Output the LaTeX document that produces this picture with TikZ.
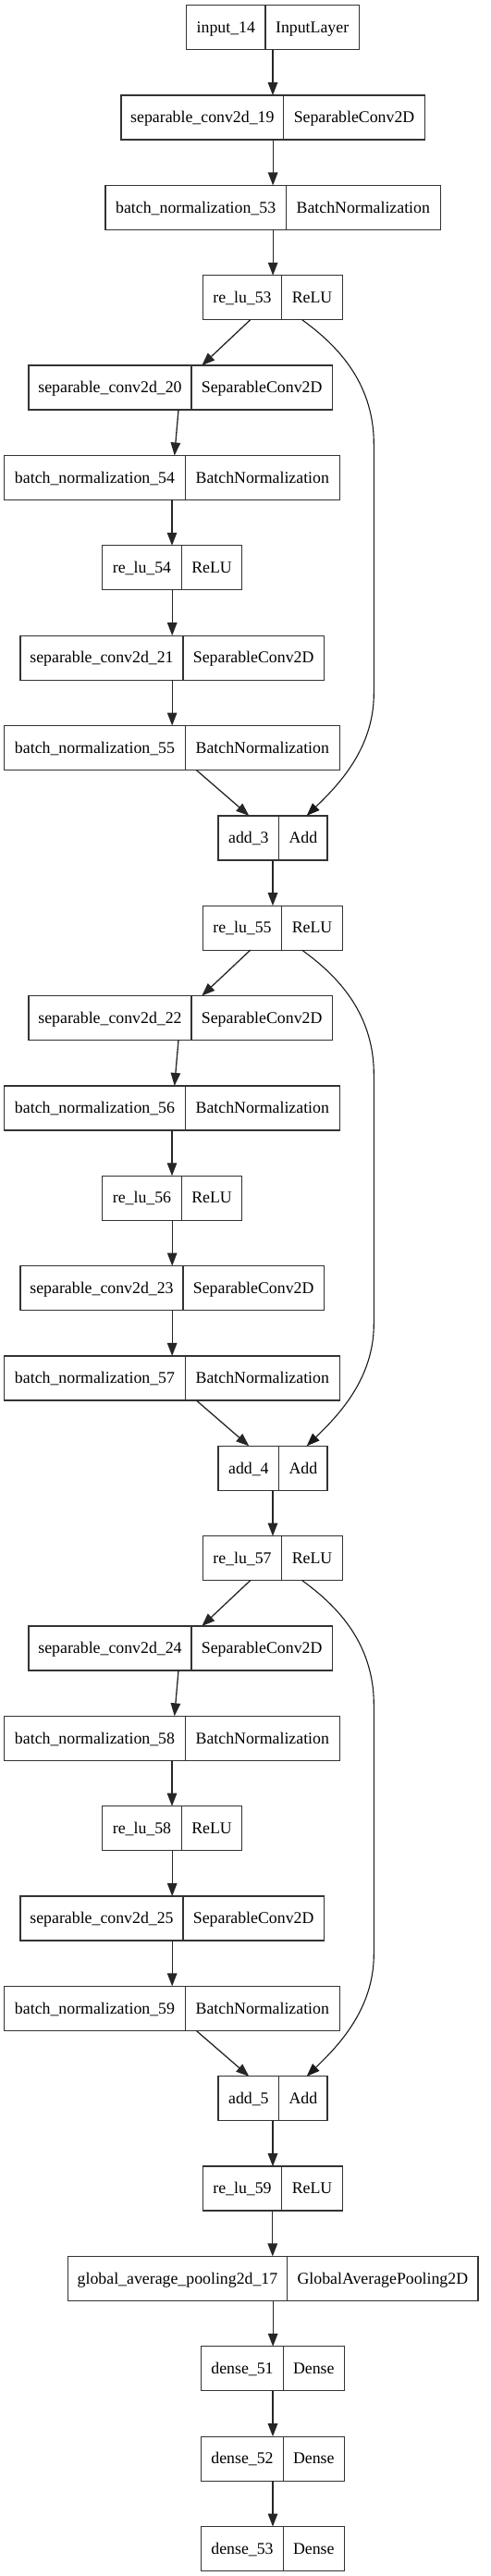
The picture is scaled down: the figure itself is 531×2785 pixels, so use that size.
\documentclass[tikz,border=0pt]{standalone}
\usepackage{fontspec}
\setmainfont{Liberation Serif}
\usetikzlibrary{arrows.meta}
\tikzset{
  recbox/.style={draw=black!80, line width=1.3bp, inner sep=0pt, outer sep=0pt, minimum height=48bp},
  recline/.style={draw=black!80, line width=1.3bp},
  lbl/.style={inner sep=0pt, anchor=base, font=\fontsize{17.8bp}{20bp}\selectfont, text=black},
  edge/.style={draw=black!85, line width=1.3bp, -{Triangle[length=14bp,width=10.5bp]}},
  skipedge/.style={draw=black!90, line width=1.1bp, -{Triangle[length=14bp,width=10.5bp]}}
}
\newcommand\layerbox[7]{%
  \pgfmathsetmacro\lbY{5.7+#2*97.35}%
  \pgfmathsetmacro\lbB{\lbY+29.7}%
  \pgfmathsetmacro\lbW{#5-#3}%
  \node[recbox, minimum width=\lbW bp, anchor=north west] (#1) at (#3,\lbY) {};
  \draw[recline] (#4,\lbY) -- ++(0,48);
  \node[lbl] (#1n) at ({(#3+#4)/2},\lbB) {#6};
  \node[lbl] (#1t) at ({(#4+#5)/2},\lbB) {#7};
}
\begin{document}
\begin{tikzpicture}[x=1bp,y=-1bp]
\useasboundingbox (0,0) rectangle (531,2785);
% main head
\layerbox{in1}{0}{201.7}{287}{388.3}{input\_14}{InputLayer}
\layerbox{sc19}{1}{131}{306.7}{459.3}{separable\_conv2d\_19}{SeparableConv2D}
\layerbox{bn53}{2}{114}{309.3}{476.3}{batch\_normalization\_53}{BatchNormalization}
% block 1
\layerbox{r53}{3}{219.3}{304.7}{370.3}{re\_lu\_53}{ReLU}
\layerbox{sc20}{4}{31}{207}{359.3}{separable\_conv2d\_20}{SeparableConv2D}
\layerbox{bn54}{5}{4.7}{200.3}{367.3}{batch\_normalization\_54}{BatchNormalization}
\layerbox{r54}{6}{110.7}{196.3}{261.7}{re\_lu\_54}{ReLU}
\layerbox{sc21}{7}{22}{198}{350.3}{separable\_conv2d\_21}{SeparableConv2D}
\layerbox{bn55}{8}{4.7}{200.3}{367.3}{batch\_normalization\_55}{BatchNormalization}
\layerbox{ad3}{9}{236}{301.7}{354}{add\_3}{Add}
% block 2
\layerbox{r55}{10}{219.3}{304.7}{370.3}{re\_lu\_55}{ReLU}
\layerbox{sc22}{11}{31}{207}{359.3}{separable\_conv2d\_22}{SeparableConv2D}
\layerbox{bn56}{12}{4.7}{200.3}{367.3}{batch\_normalization\_56}{BatchNormalization}
\layerbox{r56}{13}{110.7}{196.3}{261.7}{re\_lu\_56}{ReLU}
\layerbox{sc23}{14}{22}{198}{350.3}{separable\_conv2d\_23}{SeparableConv2D}
\layerbox{bn57}{15}{4.7}{200.3}{367.3}{batch\_normalization\_57}{BatchNormalization}
\layerbox{ad4}{16}{236}{301.7}{354}{add\_4}{Add}
% block 3
\layerbox{r57}{17}{219.3}{304.7}{370.3}{re\_lu\_57}{ReLU}
\layerbox{sc24}{18}{31}{207}{359.3}{separable\_conv2d\_24}{SeparableConv2D}
\layerbox{bn58}{19}{4.7}{200.3}{367.3}{batch\_normalization\_58}{BatchNormalization}
\layerbox{r58}{20}{110.7}{196.3}{261.7}{re\_lu\_58}{ReLU}
\layerbox{sc25}{21}{22}{198}{350.3}{separable\_conv2d\_25}{SeparableConv2D}
\layerbox{bn59}{22}{4.7}{200.3}{367.3}{batch\_normalization\_59}{BatchNormalization}
\layerbox{ad5}{23}{236}{301.7}{354}{add\_5}{Add}
% tail
\layerbox{r59}{24}{219.3}{304.7}{370.3}{re\_lu\_59}{ReLU}
\layerbox{gap}{25}{73.3}{310.7}{517}{global\_average\_pooling2d\_17}{GlobalAveragePooling2D}
\layerbox{d51}{26}{217.7}{306.3}{372.3}{dense\_51}{Dense}
\layerbox{d52}{27}{217.7}{306.3}{372.3}{dense\_52}{Dense}
\layerbox{d53}{28}{217.7}{306.3}{372.3}{dense\_53}{Dense}
% skip-path way points
\coordinate (k1a) at (404.3,480);
\coordinate (k1b) at (404.3,750);
\coordinate (k2a) at (404.3,1161.45);
\coordinate (k2b) at (404.3,1431.45);
\coordinate (k3a) at (404.3,1842.9);
\coordinate (k3b) at (404.3,2112.9);
% main column edges
\foreach \a/\b in {in1/sc19, sc19/bn53, bn53/r53, ad3/r55, ad4/r57, ad5/r59, r59/gap, gap/d51, d51/d52, d52/d53}
  \draw[edge] (\a.south) -- (\a.south |- \b.north);
% blocks
\foreach \r/\sa/\ba/\rb/\sb/\bb/\ad/\ka/\kb in {r53/sc20/bn54/r54/sc21/bn55/ad3/k1a/k1b, r55/sc22/bn56/r56/sc23/bn57/ad4/k2a/k2b, r57/sc24/bn58/r58/sc25/bn59/ad5/k3a/k3b}{
  \draw[edge] ([xshift=51.4bp]\r.south west) -- ([xshift=187.3bp]\sa.north west);
  \draw[edge] ([xshift=162bp]\sa.south west) -- ([xshift=184bp]\ba.north west);
  \draw[edge] (\ba.south) -- (\ba.south |- \rb.north);
  \draw[edge] (\rb.south) -- (\rb.south |- \sb.north);
  \draw[edge] (\sb.south) -- (\sb.south |- \bb.north);
  \draw[edge] ([xshift=207.6bp]\bb.south west) -- ([xshift=33.3bp]\ad.north west);
  \draw[skipedge] ([xshift=107.4bp]\r.south west) .. controls +(33,24) and +(0,-70) .. (\ka)
     -- (\kb) .. controls +(0,60) and +(33,-32) .. ([xshift=95.7bp]\ad.north west);
}
\end{tikzpicture}
\end{document}
